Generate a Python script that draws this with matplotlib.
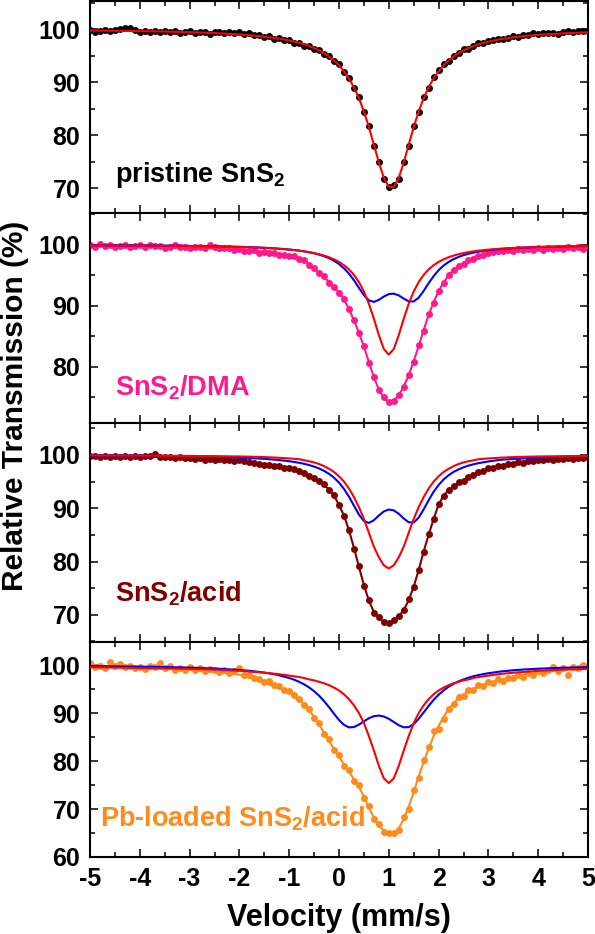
import numpy as np
import matplotlib.pyplot as plt
from matplotlib.ticker import MultipleLocator

plt.rcParams['font.family'] = 'Liberation Sans'
plt.rcParams['font.weight'] = 'bold'
plt.rcParams['axes.unicode_minus'] = False
plt.rcParams['mathtext.fontset'] = 'custom'
plt.rcParams['mathtext.rm'] = 'Liberation Sans:bold'
plt.rcParams['mathtext.bf'] = 'Liberation Sans:bold'
plt.rcParams['mathtext.it'] = 'Liberation Sans:bold'

# velocity channels (mm/s) of the measured points
x_data = np.round(np.arange(-5.0, 5.01, 0.1), 1)
# velocity grid of the fitted curves
x_fit = np.r_[[-5.0, -4.5, -4.0, -3.5, -3.0, -2.5, -2.0, -1.75, -1.5, -1.25],
              np.round(np.arange(-1.0, 3.01, 0.1), 1),
              [3.25, 3.5, 3.75, 4.0, 4.5, 5.0]]

# pristine SnS2
pristine_data = [99.8, 99.5, 99.7, 99.9, 99.6, 99.8, 100.0, 100.2, 100.3, 99.8,
                 99.5, 99.7, 99.4, 99.7, 99.5, 99.7, 99.5, 99.7, 99.3, 99.5,
                 99.6, 99.3, 99.4, 99.4, 99.1, 99.4, 99.5, 99.3, 99.4, 99.3,
                 99.4, 99.1, 99.3, 98.9, 98.9, 98.6, 98.7, 98.2, 98.3, 97.9,
                 98.0, 97.4, 97.4, 96.9, 96.9, 96.3, 96.1, 95.3, 94.9, 94.0,
                 93.4, 91.9, 90.8, 88.8, 87.2, 84.4, 81.8, 78.0, 74.9, 71.7,
                 70.2, 70.5, 71.8, 75.0, 78.0, 81.7, 84.4, 87.2, 88.8, 90.9,
                 92.2, 93.5, 94.0, 95.0, 95.5, 96.2, 96.3, 96.9, 97.3, 97.3,
                 97.8, 97.9, 98.2, 98.1, 98.4, 98.7, 98.5, 98.9, 98.9, 99.2,
                 99.0, 99.3, 99.2, 99.3, 99.1, 99.4, 99.6, 99.4, 99.7, 99.6, 99.7]
pristine_fit = [99.74, 99.69, 99.62, 99.54, 99.42, 99.25, 98.99, 98.81, 98.57, 98.27,
                97.85, 97.64, 97.41, 97.14, 96.80, 96.42, 95.99, 95.46, 94.84, 94.08,
                93.17, 92.06, 90.69, 89.01, 86.96, 84.46, 81.52, 78.21, 74.84, 71.94,
                70.23, 70.23, 71.94, 74.84, 78.21, 81.52, 84.46, 86.96, 89.01, 90.69,
                92.06, 93.17, 94.08, 94.84, 95.46, 95.99, 96.42, 96.80, 97.14, 97.41,
                97.64, 98.11, 98.46, 98.72, 98.92, 99.20, 99.39]

# SnS2/DMA
dma_data = [100.0, 99.7, 100.1, 99.8, 100.0, 99.6, 99.8, 99.9, 99.6, 99.8,
            99.9, 99.7, 100.0, 99.8, 99.8, 99.5, 99.7, 99.9, 99.6, 99.7,
            99.4, 99.6, 99.7, 99.5, 100.0, 99.6, 99.4, 99.4, 99.5, 99.2,
            99.3, 99.0, 99.0, 99.1, 98.7, 98.8, 98.6, 98.6, 98.4, 98.3,
            98.2, 98.2, 97.7, 97.5, 96.7, 96.2, 95.3, 94.8, 93.8, 93.1,
            92.1, 91.1, 89.4, 87.7, 85.5, 83.4, 80.7, 78.4, 76.2, 75.0,
            74.2, 74.4, 75.4, 76.7, 78.7, 80.8, 83.5, 85.9, 88.6, 90.5,
            92.5, 93.7, 95.1, 95.8, 96.6, 96.9, 97.5, 97.7, 98.2, 98.3,
            98.7, 98.8, 99.0, 98.9, 99.2, 99.0, 99.3, 99.1, 99.3, 99.2,
            99.4, 99.2, 99.4, 99.3, 99.5, 99.3, 99.6, 99.4, 99.6, 99.3, 99.6]
dma_total = [99.8, 99.8, 99.7, 99.6, 99.5, 99.4, 99.1, 98.95, 98.8, 98.6,
             98.3, 98.1, 97.8, 97.4, 96.8, 96.1, 95.4, 94.7, 93.9, 93.0,
             92.2, 91.0, 89.5, 87.6, 85.6, 83.3, 80.8, 78.3, 76.3, 74.9,
             74.3, 74.5, 75.3, 76.8, 78.6, 80.9, 83.4, 86.0, 88.5, 90.6,
             92.4, 93.8, 95.0, 95.9, 96.5, 97.0, 97.4, 97.8, 98.1, 98.4,
             98.7, 99.0, 99.1, 99.2, 99.3, 99.4, 99.5]
dma_red = [99.91, 99.89, 99.87, 99.84, 99.79, 99.73, 99.64, 99.57, 99.48, 99.36,
           99.20, 99.12, 99.03, 98.92, 98.79, 98.63, 98.45, 98.22, 97.95, 97.61,
           97.19, 96.65, 95.96, 95.06, 93.89, 92.34, 90.34, 87.89, 85.20, 82.92,
           82.00, 82.92, 85.20, 87.89, 90.34, 92.34, 93.89, 95.06, 95.96, 96.65,
           97.19, 97.61, 97.95, 98.22, 98.45, 98.63, 98.79, 98.92, 99.03, 99.12,
           99.20, 99.36, 99.48, 99.57, 99.64, 99.73, 99.79]
dma_blue = [99.92, 99.90, 99.88, 99.85, 99.81, 99.75, 99.66, 99.59, 99.51, 99.39,
            99.22, 99.14, 99.04, 98.91, 98.77, 98.60, 98.38, 98.12, 97.79, 97.37,
            96.84, 96.14, 95.27, 94.19, 92.94, 91.74, 90.88, 90.64, 90.97, 91.51,
            91.92, 91.99, 91.70, 91.18, 90.72, 90.71, 91.33, 92.44, 93.70, 94.86,
            95.83, 96.59, 97.17, 97.64, 98.00, 98.29, 98.52, 98.71, 98.86, 98.99,
            99.10, 99.30, 99.45, 99.55, 99.63, 99.73, 99.80]

# SnS2/acid
acid_data = [99.9, 99.8, 99.6, 99.8, 99.7, 99.9, 99.6, 99.8, 99.7, 99.8,
             99.6, 99.8, 99.9, 100.1, 99.7, 99.6, 99.7, 99.5, 99.6, 99.5,
             99.4, 99.3, 99.4, 99.1, 99.3, 99.1, 99.2, 99.0, 99.1, 98.9,
             99.0, 98.8, 98.7, 98.5, 98.3, 98.2, 98.1, 97.9, 97.9, 97.6,
             97.5, 97.4, 96.9, 96.7, 96.0, 95.7, 95.1, 94.5, 93.4, 92.5,
             90.6, 88.5, 85.9, 82.4, 79.1, 75.5, 72.7, 70.4, 69.5, 68.6,
             68.4, 69.0, 69.7, 70.9, 72.9, 75.2, 78.5, 81.8, 85.1, 88.0,
             90.8, 92.3, 93.5, 94.1, 94.9, 95.2, 95.9, 96.2, 96.8, 97.0,
             97.5, 97.5, 97.9, 98.0, 98.3, 98.3, 98.6, 98.5, 98.8, 98.8,
             99.1, 99.0, 99.2, 99.1, 99.3, 99.3, 99.4, 99.3, 99.5, 99.4, 99.6]
acid_total = [99.79, 99.76, 99.70, 99.6, 99.3, 99.1, 98.9, 98.6, 98.2, 97.9,
              97.5, 97.3, 97.0, 96.6, 96.1, 95.6, 95.2, 94.4, 93.5, 92.4,
              90.6, 88.63, 85.87, 82.59, 79.01, 75.60, 72.65, 70.55, 69.44, 68.70,
              68.46, 68.90, 69.77, 70.88, 72.76, 75.3, 78.4, 81.9, 85.0, 88.0,
              90.7, 92.4, 93.4, 94.2, 94.8, 95.3, 95.8, 96.3, 96.7, 97.1,
              97.4, 98.0, 98.4, 98.8, 99.0, 99.3, 99.5]
acid_red = [99.91, 99.90, 99.88, 99.85, 99.82, 99.78, 99.72, 99.67, 99.60, 99.50,
            99.35, 99.28, 99.20, 99.00, 98.82, 98.60, 98.30, 97.90, 97.40, 96.80,
            96.00, 95.00, 93.70, 92.10, 90.20, 88.00, 85.40, 82.80, 80.80, 79.30,
            78.70, 79.30, 80.80, 82.80, 85.40, 88.00, 90.20, 92.10, 93.70, 95.00,
            96.00, 96.80, 97.40, 97.90, 98.30, 98.60, 98.82, 99.00, 99.20, 99.28,
            99.35, 99.50, 99.60, 99.67, 99.72, 99.78, 99.82]
acid_blue = [99.88, 99.86, 99.82, 99.78, 99.72, 99.64, 99.50, 99.40, 99.27, 99.09,
             98.83, 98.69, 98.53, 98.34, 98.10, 97.82, 97.47, 97.02, 96.46, 95.74,
             94.81, 93.63, 92.17, 90.49, 88.81, 87.60, 87.25, 87.75, 88.64, 89.40,
             89.76, 89.60, 88.97, 88.08, 87.36, 87.34, 88.24, 89.79, 91.51, 93.09,
             94.37, 95.40, 96.19, 96.81, 97.29, 97.68, 98.00, 98.25, 98.46, 98.63,
             98.78, 99.10, 99.25, 99.38, 99.49, 99.63, 99.72]

# Pb-loaded SnS2/acid
pb_data = [100.5, 99.6, 99.9, 99.4, 100.6, 99.8, 100.2, 99.5, 99.9, 99.3,
           99.6, 99.2, 99.9, 99.5, 100.5, 99.4, 99.8, 99.0, 99.4, 98.9,
           99.5, 99.0, 99.3, 98.8, 99.2, 98.9, 98.6, 99.0, 98.4, 98.7,
           99.3, 98.0, 97.9, 97.4, 97.0, 96.5, 96.6, 95.8, 95.7, 94.9,
           94.6, 93.7, 93.0, 91.6, 90.9, 88.9, 87.9, 85.6, 84.6, 82.2,
           81.2, 79.0, 78.2, 75.8, 74.9, 72.2, 70.6, 67.9, 66.9, 65.2,
           64.9, 65.0, 65.7, 68.3, 70.1, 73.9, 76.4, 80.2, 83.0, 86.2,
           86.7, 88.8, 90.9, 91.8, 93.3, 93.6, 94.7, 94.8, 95.8, 95.6,
           96.5, 96.3, 97.0, 96.7, 97.4, 97.3, 97.9, 97.6, 98.3, 98.0,
           98.7, 98.3, 99.0, 99.5, 98.8, 99.4, 98.0, 99.6, 99.3, 100.0, 99.8]
pb_total = [99.6, 99.5, 99.4, 99.2, 99.0, 98.6, 98.0, 97.4, 96.3, 95.4,
            94.3, 93.6, 92.8, 91.8, 90.6, 89.2, 87.6, 85.9, 84.2, 82.5,
            80.9, 79.3, 77.8, 76.2, 74.6, 72.6, 70.3, 68.2, 66.6, 65.5,
            64.9, 64.8, 66.0, 67.9, 70.5, 73.5, 76.8, 79.8, 82.6, 85.2,
            87.3, 89.2, 90.8, 92.1, 93.1, 93.9, 94.5, 95.0, 95.5, 95.9,
            96.2, 96.9, 97.5, 98.0, 98.4, 99.0, 99.5]
pb_red = [99.55, 99.48, 99.40, 99.30, 99.20, 99.05, 98.80, 98.60, 98.40, 98.15,
          97.80, 97.65, 97.50, 97.30, 97.00, 96.80, 96.50, 96.20, 95.80, 95.30,
          94.70, 93.90, 92.90, 91.60, 90.00, 87.90, 85.20, 82.20, 79.00, 76.40,
          75.40, 76.40, 79.00, 82.20, 85.20, 87.90, 90.00, 91.60, 92.90, 93.90,
          94.70, 95.30, 95.80, 96.20, 96.50, 96.80, 97.00, 97.30, 97.50, 97.65,
          97.80, 98.15, 98.40, 98.60, 98.80, 99.05, 99.20]
pb_blue = [99.78, 99.73, 99.67, 99.59, 99.46, 99.28, 98.98, 98.75, 98.43, 97.98,
           97.30, 96.94, 96.50, 95.97, 95.33, 94.55, 93.61, 92.49, 91.21, 89.85,
           88.54, 87.53, 87.01, 87.08, 87.58, 88.27, 88.91, 89.34, 89.47, 89.27,
           88.79, 88.13, 87.45, 87.03, 87.06, 87.69, 88.79, 90.12, 91.48, 92.73,
           93.81, 94.72, 95.47, 96.08, 96.60, 97.01, 97.36, 97.66, 97.91, 98.12,
           98.30, 98.66, 98.91, 99.10, 99.24, 99.44, 99.57]

panels = [
    dict(data=pristine_data, total=None, red=pristine_fit, blue=None, color='black',
         label=r'pristine SnS$_\mathbf{2}$', ylim=(65.3, 105.3), yticks=[70, 80, 90, 100],
         lab_xy=(0.05, 0.18)),
    dict(data=dma_data, total=dma_total, red=dma_red, blue=dma_blue, color='#ff1a8c',
         label=r'SnS$_\mathbf{2}$/DMA', ylim=(70.8, 105.2), yticks=[80, 90, 100],
         lab_xy=(0.05, 0.17)),
    dict(data=acid_data, total=acid_total, red=acid_red, blue=acid_blue, color='#800000',
         label=r'SnS$_\mathbf{2}$/acid', ylim=(64.9, 106.0), yticks=[70, 80, 90, 100],
         lab_xy=(0.05, 0.22)),
    dict(data=pb_data, total=pb_total, red=pb_red, blue=pb_blue, color='#ff8c1a',
         label=r'Pb-loaded SnS$_\mathbf{2}$/acid', ylim=(60.0, 104.8),
         yticks=[60, 70, 80, 90, 100], lab_xy=(0.02, 0.18)),
]

# panel boxes in pixels (top, bottom) of a 595x934 canvas
boxes = [(1, 213), (213, 423), (423, 642), (642, 857)]

fig = plt.figure(figsize=(5.95, 9.34), dpi=100)
left, width = 90 / 595, 498 / 595

for i, (p, (top, bot)) in enumerate(zip(panels, boxes)):
    ax = fig.add_axes([left, 1 - bot / 934, width, (bot - top) / 934])
    ax.plot(x_data, p['data'], 'o', color=p['color'], ms=5.0, mew=0, zorder=2)
    if p['total'] is not None:
        ax.plot(x_fit, p['total'], '-', color=p['color'], lw=1.5, zorder=3)
    if p['blue'] is not None:
        ax.plot(x_fit, p['blue'], '-', color='#0000ff', lw=1.5, zorder=4)
    ax.plot(x_fit, p['red'], '-', color='#ff0000', lw=1.5, zorder=5)

    ax.set_xlim(-5, 5)
    ax.set_ylim(*p['ylim'])
    ax.set_yticks(p['yticks'])
    ax.xaxis.set_major_locator(MultipleLocator(1))
    ax.xaxis.set_minor_locator(MultipleLocator(0.5))
    ax.yaxis.set_minor_locator(MultipleLocator(5))
    ax.tick_params(which='both', direction='in', top=True, right=True,
                   labelsize=18, width=1.1, pad=7)
    ax.tick_params(which='major', length=6)
    ax.tick_params(which='minor', length=3.6)
    for s in ax.spines.values():
        s.set_linewidth(1.5)
    if i < 3:
        ax.tick_params(labelbottom=False)
    else:
        ax.set_xlabel('Velocity (mm/s)', fontsize=22, fontweight='bold', labelpad=9)

    ax.text(p['lab_xy'][0], p['lab_xy'][1], p['label'], transform=ax.transAxes,
            color=p['color'], fontsize=19.5, fontweight='bold', va='center', ha='left')

fig.text(0.025, 0.565, 'Relative Transmission (%)', rotation=90, fontsize=21.5,
         fontweight='bold', ha='center', va='center')

fig.savefig('out.png', dpi=100)
